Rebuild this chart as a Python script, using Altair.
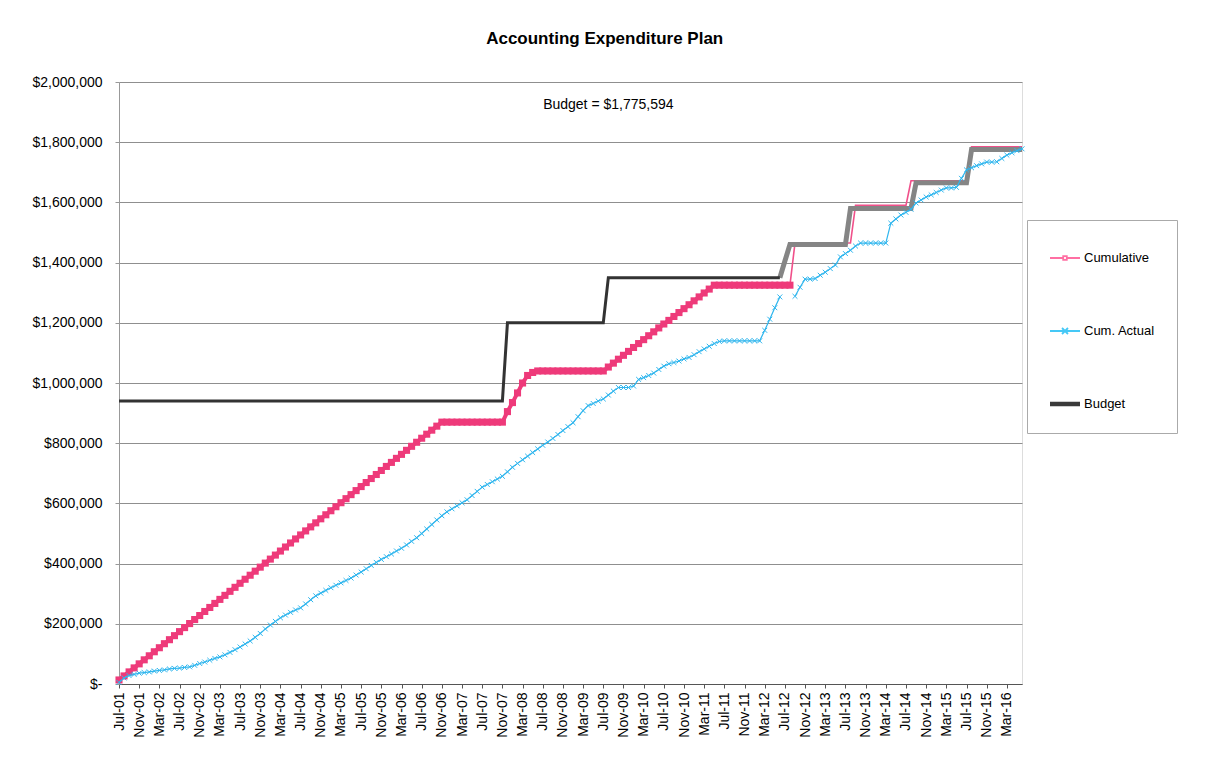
import altair as alt
import pandas as pd

# ---------------- data ----------------
months = pd.date_range("2001-07-01", periods=180, freq="MS").strftime("%b-%y").tolist()
tick_positions = list(range(0, 180, 4))

SERIES = ["Cumulative", "Cum. Actual", "Budget"]

# one row per fiscal year (Jul..Jun)
budget = [
    940000, 940000, 940000, 940000, 940000, 940000, 940000, 940000, 940000, 940000, 940000, 940000,
    940000, 940000, 940000, 940000, 940000, 940000, 940000, 940000, 940000, 940000, 940000, 940000,
    940000, 940000, 940000, 940000, 940000, 940000, 940000, 940000, 940000, 940000, 940000, 940000,
    940000, 940000, 940000, 940000, 940000, 940000, 940000, 940000, 940000, 940000, 940000, 940000,
    940000, 940000, 940000, 940000, 940000, 940000, 940000, 940000, 940000, 940000, 940000, 940000,
    940000, 940000, 940000, 940000, 940000, 940000, 940000, 940000, 940000, 940000, 940000, 940000,
    940000, 940000, 940000, 940000, 940000, 1200000, 1200000, 1200000, 1200000, 1200000, 1200000, 1200000,
    1200000, 1200000, 1200000, 1200000, 1200000, 1200000, 1200000, 1200000, 1200000, 1200000, 1200000, 1200000,
    1200000, 1350000, 1350000, 1350000, 1350000, 1350000, 1350000, 1350000, 1350000, 1350000, 1350000, 1350000,
    1350000, 1350000, 1350000, 1350000, 1350000, 1350000, 1350000, 1350000, 1350000, 1350000, 1350000, 1350000,
    1350000, 1350000, 1350000, 1350000, 1350000, 1350000, 1350000, 1350000, 1350000, 1350000, 1350000, 1350000,
    1405000, 1460000, 1460000, 1460000, 1460000, 1460000, 1460000, 1460000, 1460000, 1460000, 1460000, 1460000,
    1460000, 1580000, 1580000, 1580000, 1580000, 1580000, 1580000, 1580000, 1580000, 1580000, 1580000, 1580000,
    1580000, 1580000, 1665000, 1665000, 1665000, 1665000, 1665000, 1665000, 1665000, 1665000, 1665000, 1665000,
    1665000, 1775594, 1775594, 1775594, 1775594, 1775594, 1775594, 1775594, 1775594, 1775594, 1775594, 1775594,
]

cumulative = [
    13400, 26800, 40200, 53500, 66900, 80300, 93700, 107100, 120500, 133900, 147200, 160600,
    174000, 187400, 200800, 214200, 227500, 240900, 254300, 267700, 281100, 294500, 307900, 321200,
    334600, 348000, 361400, 374800, 388200, 401600, 414900, 428300, 441700, 455100, 468500, 481900,
    495200, 508600, 522000, 535400, 548800, 562200, 575600, 588900, 602300, 615700, 629100, 642500,
    655900, 669300, 682600, 696000, 709400, 722800, 736200, 749600, 762900, 776300, 789700, 803100,
    816500, 829900, 843300, 856600, 870000, 870000, 870000, 870000, 870000, 870000, 870000, 870000,
    870000, 870000, 870000, 870000, 870000, 905000, 935000, 967000, 1000000, 1025000, 1035000, 1040000,
    1040000, 1040000, 1040000, 1040000, 1040000, 1040000, 1040000, 1040000, 1040000, 1040000, 1040000, 1040000,
    1040000, 1053000, 1066000, 1079000, 1092000, 1105000, 1118000, 1131000, 1144000, 1157000, 1170000, 1183000,
    1196000, 1208000, 1221000, 1234000, 1247000, 1260000, 1273000, 1286000, 1299000, 1312000, 1325000, 1325000,
    1325000, 1325000, 1325000, 1325000, 1325000, 1325000, 1325000, 1325000, 1325000, 1325000, 1325000, 1325000,
    1325000, 1325000, 1465000, 1465000, 1465000, 1465000, 1465000, 1465000, 1465000, 1465000, 1465000, 1465000,
    1465000, 1465000, 1590000, 1590000, 1590000, 1590000, 1590000, 1590000, 1590000, 1590000, 1590000, 1590000,
    1590000, 1672000, 1672000, 1672000, 1672000, 1672000, 1672000, 1672000, 1672000, 1672000, 1672000, 1672000,
    1672000, 1785000, 1785000, 1785000, 1785000, 1785000, 1785000, 1785000, 1785000, 1785000, 1785000, 1785000,
]

cum_actual = [
    5000, 20000, 28000, 32000, 36000, 38000, 40000, 43000, 45000, 47000, 50000, 52000,
    53000, 55000, 57000, 62000, 68000, 73000, 79000, 85000, 90000, 97000, 105000, 114000,
    123000, 133000, 143000, 155000, 168000, 183000, 196000, 208000, 220000, 229000, 238000, 246000,
    253000, 266000, 280000, 293000, 302000, 311000, 320000, 328000, 336000, 344000, 352000, 362000,
    372000, 383000, 394000, 404000, 414000, 423000, 432000, 442000, 451000, 462000, 474000, 486000,
    500000, 515000, 530000, 545000, 559000, 572000, 582000, 592000, 602000, 612000, 626000, 640000,
    654000, 663000, 672000, 681000, 690000, 705000, 720000, 733000, 745000, 757000, 769000, 781000,
    793000, 804000, 816000, 829000, 842000, 855000, 868000, 888000, 908000, 925000, 932000, 940000,
    947000, 960000, 973000, 985000, 985000, 985000, 990000, 1012000, 1018000, 1025000, 1033000, 1045000,
    1056000, 1064000, 1068000, 1073000, 1080000, 1085000, 1094000, 1104000, 1113000, 1122000, 1131000, 1138000,
    1140000, 1140000, 1140000, 1140000, 1140000, 1140000, 1140000, 1140000, 1175000, 1212000, 1250000, 1286000,
    None, None, 1288000, 1318000, 1345000, 1345000, 1347000, 1358000, 1368000, 1380000, 1392000, 1419000,
    1430000, 1441000, 1455000, 1465000, 1465000, 1465000, 1465000, 1465000, 1465000, 1531000, 1545000, 1558000,
    1567000, 1577000, 1598000, 1608000, 1618000, 1625000, 1633000, 1641000, 1648000, 1648000, 1650000, 1680000,
    1708000, 1715000, 1722000, 1728000, 1734000, 1734000, 1735000, 1746000, 1757000, 1765000, 1772000, 1778000,
]

ANNOT_TEXT = "Budget = $1,775,594"
ANNOT_MONTH = "Aug-09"
ANNOT_VALUE = 1925000

# ---------------- frames ----------------
main = pd.DataFrame({"month": months, "Budget": budget,
                     "Cumulative": cumulative, "CumActual": cum_actual})
main["idx"] = range(len(main))

budget_black = main[main.idx <= 131]
budget_gray = main[main.idx >= 131]
pink_thick = main[main.idx <= 133]
pink_thin = main[main.idx >= 133]
blue = main.dropna(subset=["CumActual"]).copy()
blue["seg"] = (blue.idx > 131).astype(int)

legend_df = pd.DataFrame({"idx": [0] * 3, "value": [None] * 3, "series": SERIES})
annot_df = pd.DataFrame({"idx": [months.index(ANNOT_MONTH)], "value": [ANNOT_VALUE], "text": [ANNOT_TEXT]})

FONT = "Liberation Sans"
month_js = "[" + ",".join("'" + m + "'" for m in months) + "]"

xenc = alt.X(
    "idx:Q",
    scale=alt.Scale(domain=[0, len(months) - 1], nice=False, zero=False),
    axis=alt.Axis(values=tick_positions, labelAngle=270, title=None, grid=False,
                  labelOverlap=False, labelFlush=False, labelBound=False,
                  labelExpr=month_js + "[datum.value]",
                  labelFont=FONT, labelFontSize=14, labelColor="#000",
                  domainColor="#555", tickColor="#555", tickSize=4, labelPadding=4),
)
yscale = alt.Scale(domain=[0, 2000000])
yaxis = alt.Axis(values=list(range(0, 2000001, 200000)), title=None, grid=True,
                 gridColor="#8f8f8f", gridWidth=1, domainColor="#999", tickColor="#999",
                 tickSize=4, labelPadding=13, labelFont=FONT, labelFontSize=14, labelColor="#000",
                 labelExpr="datum.value == 0 ? '$-' : '$' + format(datum.value, ',')")


def yenc(field):
    return alt.Y(field, type="quantitative", scale=yscale, axis=yaxis)


PINK = "#EE3A7A"
BLUE = "#2FB6EE"

l_pink_thin = alt.Chart(pink_thin).mark_line(color="#F0508A", strokeWidth=1.6).encode(x=xenc, y=yenc("Cumulative"))
l_gray = alt.Chart(budget_gray).mark_line(color="#858585", strokeWidth=5).encode(x=xenc, y=yenc("Budget"))
l_black = alt.Chart(budget_black).mark_line(color="#333333", strokeWidth=3).encode(x=xenc, y=yenc("Budget"))
l_pink = alt.Chart(pink_thick).mark_line(color=PINK, strokeWidth=4).encode(x=xenc, y=yenc("Cumulative"))
p_pink = alt.Chart(pink_thick).mark_point(shape="square", filled=True, size=50, color=PINK, opacity=1).encode(
    x=xenc, y=yenc("Cumulative"))
l_blue = alt.Chart(blue).mark_line(color=BLUE, strokeWidth=1.2).encode(x=xenc, y=yenc("CumActual"), detail="seg:N")
p_blue = alt.Chart(blue).mark_point(shape="M-1,-1L1,1M-1,1L1,-1", filled=False, size=24,
                                    strokeWidth=1, color=BLUE, opacity=1).encode(x=xenc, y=yenc("CumActual"))

annot = alt.Chart(annot_df).mark_text(font=FONT, fontSize=14, color="#000").encode(
    x=xenc, y=yenc("value"), text="text:N")

SQ = "M-1,0H-0.16M0.16,0H1M-0.12,-0.12H0.12V0.12H-0.12Z"
XX = "M-1,0H1M-0.2,-0.2L0.2,0.2M-0.2,0.2L0.2,-0.2"
BAR = "M-1,-0.09H1M-1,0H1M-1,0.09H1"
leg = alt.Legend(title=None, orient="none", legendX=908, legendY=138, padding=22,
                 rowPadding=50, symbolSize=900, symbolStrokeWidth=1.8, labelFont=FONT,
                 labelFontSize=13, labelColor="#000", labelOffset=3,
                 strokeColor="#aaa", fillColor="#fff")
legend_layer = alt.Chart(legend_df).mark_point(filled=False, opacity=1).encode(
    x=xenc, y=yenc("value"),
    color=alt.Color("series:N", scale=alt.Scale(domain=SERIES, range=["#FF6FA3", "#45C8F6", "#3a3a3a"]), legend=leg),
    shape=alt.Shape("series:N", scale=alt.Scale(domain=SERIES, range=[SQ, XX, BAR]), legend=leg),
)

chart = alt.layer(
    l_pink_thin, l_gray, l_black, l_pink, p_pink, l_blue, p_blue, annot, legend_layer
).properties(
    width=903, height=602,
    title=alt.TitleParams("Accounting Expenditure Plan", font=FONT, fontSize=17, fontWeight="bold",
                          anchor="middle", frame="bounds", offset=27, color="#000"),
    padding={"left": 23, "top": 22, "right": 5, "bottom": 5},
).configure_view(stroke="transparent", strokeWidth=0).configure(background="white")

chart.save("out.html", embed_options={"renderer": "svg", "actions": False})
